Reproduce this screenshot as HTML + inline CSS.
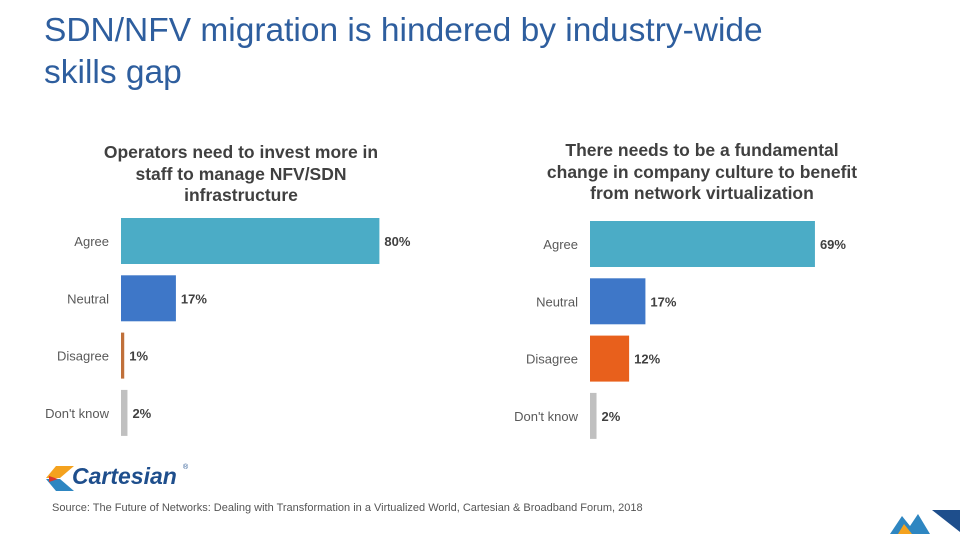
<!DOCTYPE html>
<html><head><meta charset="utf-8"><style>
body{margin:0;width:960px;height:540px;background:#fff;font-family:"Liberation Sans",sans-serif;overflow:hidden;position:relative}
.t{position:absolute}
</style></head><body>
<div class="t" style="left:44px;top:10px;font-size:33.5px;line-height:42px;color:#2E5E9E">SDN/NFV migration is hindered by industry-wide<br>skills gap</div>
<div class="t" style="left:91px;top:142px;width:300px;text-align:center;font-size:17.5px;line-height:21.5px;font-weight:bold;color:#404040">Operators need to invest more in staff to manage NFV/SDN infrastructure</div>
<div class="t" style="left:536px;top:140px;width:332px;text-align:center;font-size:17.5px;line-height:21.5px;font-weight:bold;color:#404040">There needs to be a fundamental change in company culture to benefit from network virtualization</div>
<svg id="svg" width="960" height="540" style="position:absolute;left:0;top:0"></svg>
<div class="t" style="left:46px;top:464px;width:150px;height:28px">
<svg width="30" height="26" style="position:absolute;left:0;top:2px"><polygon points="10,0 28,0 14,12 0,12" fill="#F4A21E"/><polygon points="0,13 14,13 28,25 10,25" fill="#2E86C1"/><polygon points="3,10 12,13 3,16" fill="#D9362B"/></svg>
<span style="position:absolute;left:26px;top:-1px;font-size:23px;font-style:italic;font-weight:bold;color:#1E4E8C">Cartesian</span><span style="position:absolute;left:137px;top:0;font-size:7px;color:#1E4E8C">®</span></div>
<div class="t" style="left:52px;top:502px;font-size:11px;color:#555">Source: The Future of Networks: Dealing with Transformation in a Virtualized World, Cartesian &amp; Broadband Forum, 2018</div>
<svg class="t" style="left:888px;top:508px" width="72" height="32"><polygon points="2,26 14,8 22,18 30,6 42,26" fill="#2E86C1"/><polygon points="10,26 16,16 24,26" fill="#F4A21E"/><polygon points="44,2 72,2 72,24" fill="#1E4E8C"/></svg>
<script>
const categories=["Agree","Neutral","Disagree","Don't know"];
const leftValues=[80,17,1,2];
const rightValues=[69,17,12,2];
const leftColors=["#4BACC6","#3E77C8","#C0703A","#C0C0C0"];
const rightColors=["#4BACC6","#3E77C8","#E8601C","#C0C0C0"];
const svg=document.getElementById('svg');
const NS="http://www.w3.org/2000/svg";
function draw(vals,cols,x0,y0,step,name,scale,gap){
 const xs=v=>x0+v*scale;
 vals.forEach((v,i)=>{
  const y=y0+i*step;
  const r=document.createElementNS(NS,'rect');
  r.setAttribute('x',x0);r.setAttribute('y',y);r.setAttribute('width',Math.max(xs(v)-x0,2));r.setAttribute('height',46);r.setAttribute('fill',cols[i]);
  
  
  svg.appendChild(r);
  const l=document.createElementNS(NS,'text');
  l.setAttribute('x',x0-12);l.setAttribute('y',y+28);l.setAttribute('text-anchor','end');l.setAttribute('font-size','13');l.setAttribute('fill','#595959');l.textContent=categories[i];
  
  
  svg.appendChild(l);
  const t=document.createElementNS(NS,'text');
  t.setAttribute('x',Math.max(xs(v),x0+2)+gap);t.setAttribute('y',y+28);t.setAttribute('font-size','13');t.setAttribute('font-weight','bold');t.setAttribute('fill','#404040');t.textContent=v+'%';
  
  
  svg.appendChild(t);
 });
}
draw(leftValues,leftColors,121,218,57.3,'left',3.23,5);
draw(rightValues,rightColors,590,221,57.3,'right',3.26,5);
</script>
</body></html>
